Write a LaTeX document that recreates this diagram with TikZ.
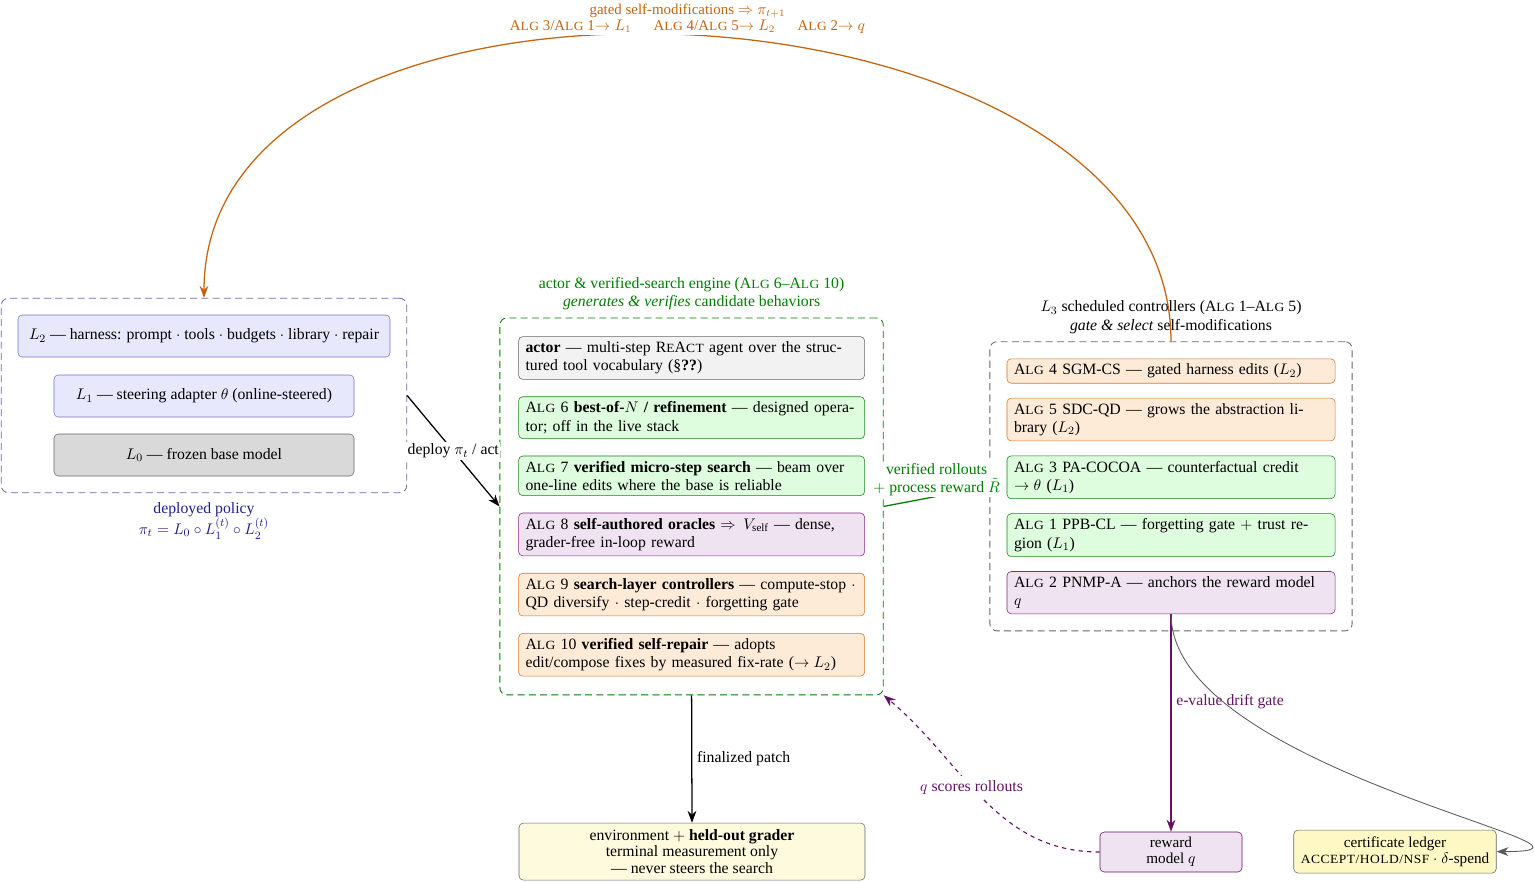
\documentclass[tikz,border=0pt]{standalone}
\usepackage{amsmath,amssymb}
\usepackage{fontspec}
\setmainfont{Liberation Serif}
\usetikzlibrary{positioning,arrows.meta,fit}

\definecolor{polline}{RGB}{105,105,170}
\definecolor{polblue}{RGB}{30,30,140}
\definecolor{lfill}{RGB}{232,232,252}
\definecolor{ldraw}{RGB}{115,115,205}
\definecolor{engreen}{RGB}{0,125,0}
\definecolor{gfill}{RGB}{222,252,222}
\definecolor{gdraw}{RGB}{30,130,30}
\definecolor{ofill}{RGB}{253,234,215}
\definecolor{odraw}{RGB}{215,120,40}
\definecolor{pfill}{RGB}{239,226,241}
\definecolor{pdraw}{RGB}{130,40,130}
\definecolor{qpurple}{RGB}{100,20,100}
\definecolor{selforange}{RGB}{195,100,15}
\definecolor{yfill}{RGB}{254,250,222}
\definecolor{ledgerfill}{RGB}{254,249,196}

% faked small capitals
\newcommand{\smc}[1]{{\fontsize{8.9pt}{10pt}\selectfont\addfontfeatures{FakeStretch=1.08,LetterSpace=4}#1}}
\newcommand{\alg}{A\smc{LG}}

\begin{document}
\begin{tikzpicture}[
    font=\fontsize{11.2pt}{13pt}\selectfont,
    box/.style={draw,rounded corners=3pt,inner xsep=5pt,inner ysep=3.6pt},
    lay/.style={box,minimum height=1.05cm,align=center},
    eng/.style={box,text width=8.3cm,align=left},
    ctl/.style={box,text width=7.85cm,align=left},
    grp/.style={draw,semithick,dash pattern=on 5pt off 3pt,rounded corners=5pt},
    flow/.style={-{Stealth[length=3mm,width=2.2mm]},line width=0.9pt}
]
\useasboundingbox (0,0) rectangle (38.35,-22.05);

% deployed policy: the three layers
\node[lay,fill=lfill,draw=ldraw,minimum width=9.3cm] (l2) at (5.1,-8.4) {$L_2$ --- harness: prompt $\cdot$ tools $\cdot$ budgets $\cdot$ library $\cdot$ repair};
\node[lay,fill=lfill,draw=ldraw,minimum width=7.5cm] (l1) at (5.1,-9.9) {$L_1$ --- steering adapter $\theta$ (online-steered)};
\node[lay,fill=gray!30,draw=gray!80!black,minimum width=7.5cm] (l0) at (5.1,-11.375) {$L_0$ --- frozen base model};
\node[grp,draw=polline,fit=(l2)(l1)(l0),inner sep=0.41cm] (policy) {};
\node[below=3pt of policy,text=polblue,align=center] (policylbl) {deployed policy\\ $\pi_t = L_0\circ L_1^{(t)}\circ L_2^{(t)}$};

% actor and search engine
\node[eng,fill=gray!10,draw=gray!80!black] (actor) at (17.29,-8.95) {\textbf{actor} --- multi-step R\smc{E}A\smc{CT} agent over the structured tool vocabulary (\S\textbf{??})};
\node[eng,fill=gfill,draw=gdraw,below=0.42cm of actor] (a6) {\alg~6 \textbf{best-of-$N$ / refinement} --- designed operator; off in the live stack};
\node[eng,fill=gfill,draw=gdraw,below=0.42cm of a6] (a7) {\alg~7 \textbf{verified micro-step search} --- beam over one-line edits where the base is reliable};
\node[eng,fill=pfill,draw=pdraw,below=0.42cm of a7] (a8) {\alg~8 \textbf{self-authored oracles} $\Rightarrow V_{\mathrm{self}}$ --- dense, grader-free in-loop reward};
\node[eng,fill=ofill,draw=odraw,below=0.42cm of a8] (a9) {\alg~9 \textbf{search-layer controllers} --- compute-stop $\cdot$ QD diversify $\cdot$ step-credit $\cdot$ forgetting gate};
\node[eng,fill=ofill,draw=odraw,below=0.42cm of a9] (a10) {\alg~10 \textbf{verified self-repair} --- adopts edit/compose fixes by measured fix-rate ($\to L_2$)};
\node[grp,draw=engreen,fit=(actor)(a10),inner sep=0.46cm] (engine) {};
\node[above=2pt of engine,text=engreen,align=center] (engtitle) {actor \& verified-search engine (\alg~6--\alg~10)\\ \textit{generates \& verifies} candidate behaviors};

% scheduled controllers
\node[ctl,fill=ofill,draw=odraw] (a4) at (29.275,-9.275) {\alg~4 SGM-CS --- gated harness edits ($L_2$)};
\node[ctl,fill=ofill,draw=odraw,below=0.36cm of a4] (a5) {\alg~5 SDC-QD --- grows the abstraction library ($L_2$)};
\node[ctl,fill=gfill,draw=gdraw,below=0.36cm of a5] (a3) {\alg~3 PA-COCOA --- counterfactual credit \mbox{$\to\theta$} ($L_1$)};
\node[ctl,fill=gfill,draw=gdraw,below=0.36cm of a3] (a1) {\alg~1 PPB-CL --- forgetting gate $+$ trust region ($L_1$)};
\node[ctl,fill=pfill,draw=pdraw,below=0.36cm of a1] (a2) {\alg~2 PNMP-A --- anchors the reward model\\ $q$};
\node[grp,draw=gray!80!black,fit=(a4)(a2),inner sep=0.42cm] (ctrl) {};
\node[above=2pt of ctrl,align=center] (ctltitle) {$L_3$ scheduled controllers (\alg~1--\alg~5)\\ \textit{gate \& select} self-modifications};

% outside world
\node[box,fill=yfill,draw=gray!80!black,minimum width=8.65cm,minimum height=1.425cm,align=center,font=\fontsize{11.2pt}{11.8pt}\selectfont] (env) at (17.3,-21.29) {environment $+$ \textbf{held-out grader}\\ terminal measurement only\\ --- never steers the search};
\node[box,fill=pfill,draw=qpurple,minimum width=3.55cm,minimum height=1cm,align=center,font=\fontsize{10.8pt}{11.2pt}\selectfont] (rm) at (29.275,-21.3) {reward\\ model $q$};
\node[box,fill=ledgerfill,draw=gray!80!black,minimum width=5.05cm,minimum height=1.075cm,align=center,font=\fontsize{10.8pt}{11.4pt}\selectfont] (ledger) at (34.875,-21.29) {certificate ledger\\ \smc{ACCEPT/HOLD/NSF} $\cdot$ $\delta$-spend};

\draw[flow] (policy.east) -- node[fill=white,inner sep=1pt]{deploy $\pi_t$ / act} (engine.west);
\draw[flow] (engine.south) -- node[right]{finalized patch} (env.north);
\draw[flow,engreen] (engine.east) -- node[above=-1pt,fill=white,align=center,inner sep=1pt]{verified rollouts\\ $+$ process reward $\tilde{R}$} (ctrl.west);
\draw[flow,selforange] (ctrl.north) to[out=90,in=90] node[above,fill=white,align=center,inner sep=1pt,font=\fontsize{10.6pt}{11.4pt}\selectfont]{gated self-modifications $\Rightarrow \pi_{t+1}$\\ \alg~3/\alg~1$\to L_1$\hspace{1.5em}\alg~4/\alg~5$\to L_2$\hspace{1.5em}\alg~2$\to q$} (policy.north);
\draw[flow,qpurple,thick] (a2.south) -- node[pos=0.4,right]{e-value drift gate} (rm.north);
\draw[flow,semithick,gray!70!black] (a2.south) to[out=-90,in=0] (ledger.east);
\draw[flow,qpurple,dashed,thick] (rm.west) to[out=180,in=-40] node[pos=0.56,fill=white]{$q$ scores rollouts} (engine.south east);
\end{tikzpicture}
\end{document}
